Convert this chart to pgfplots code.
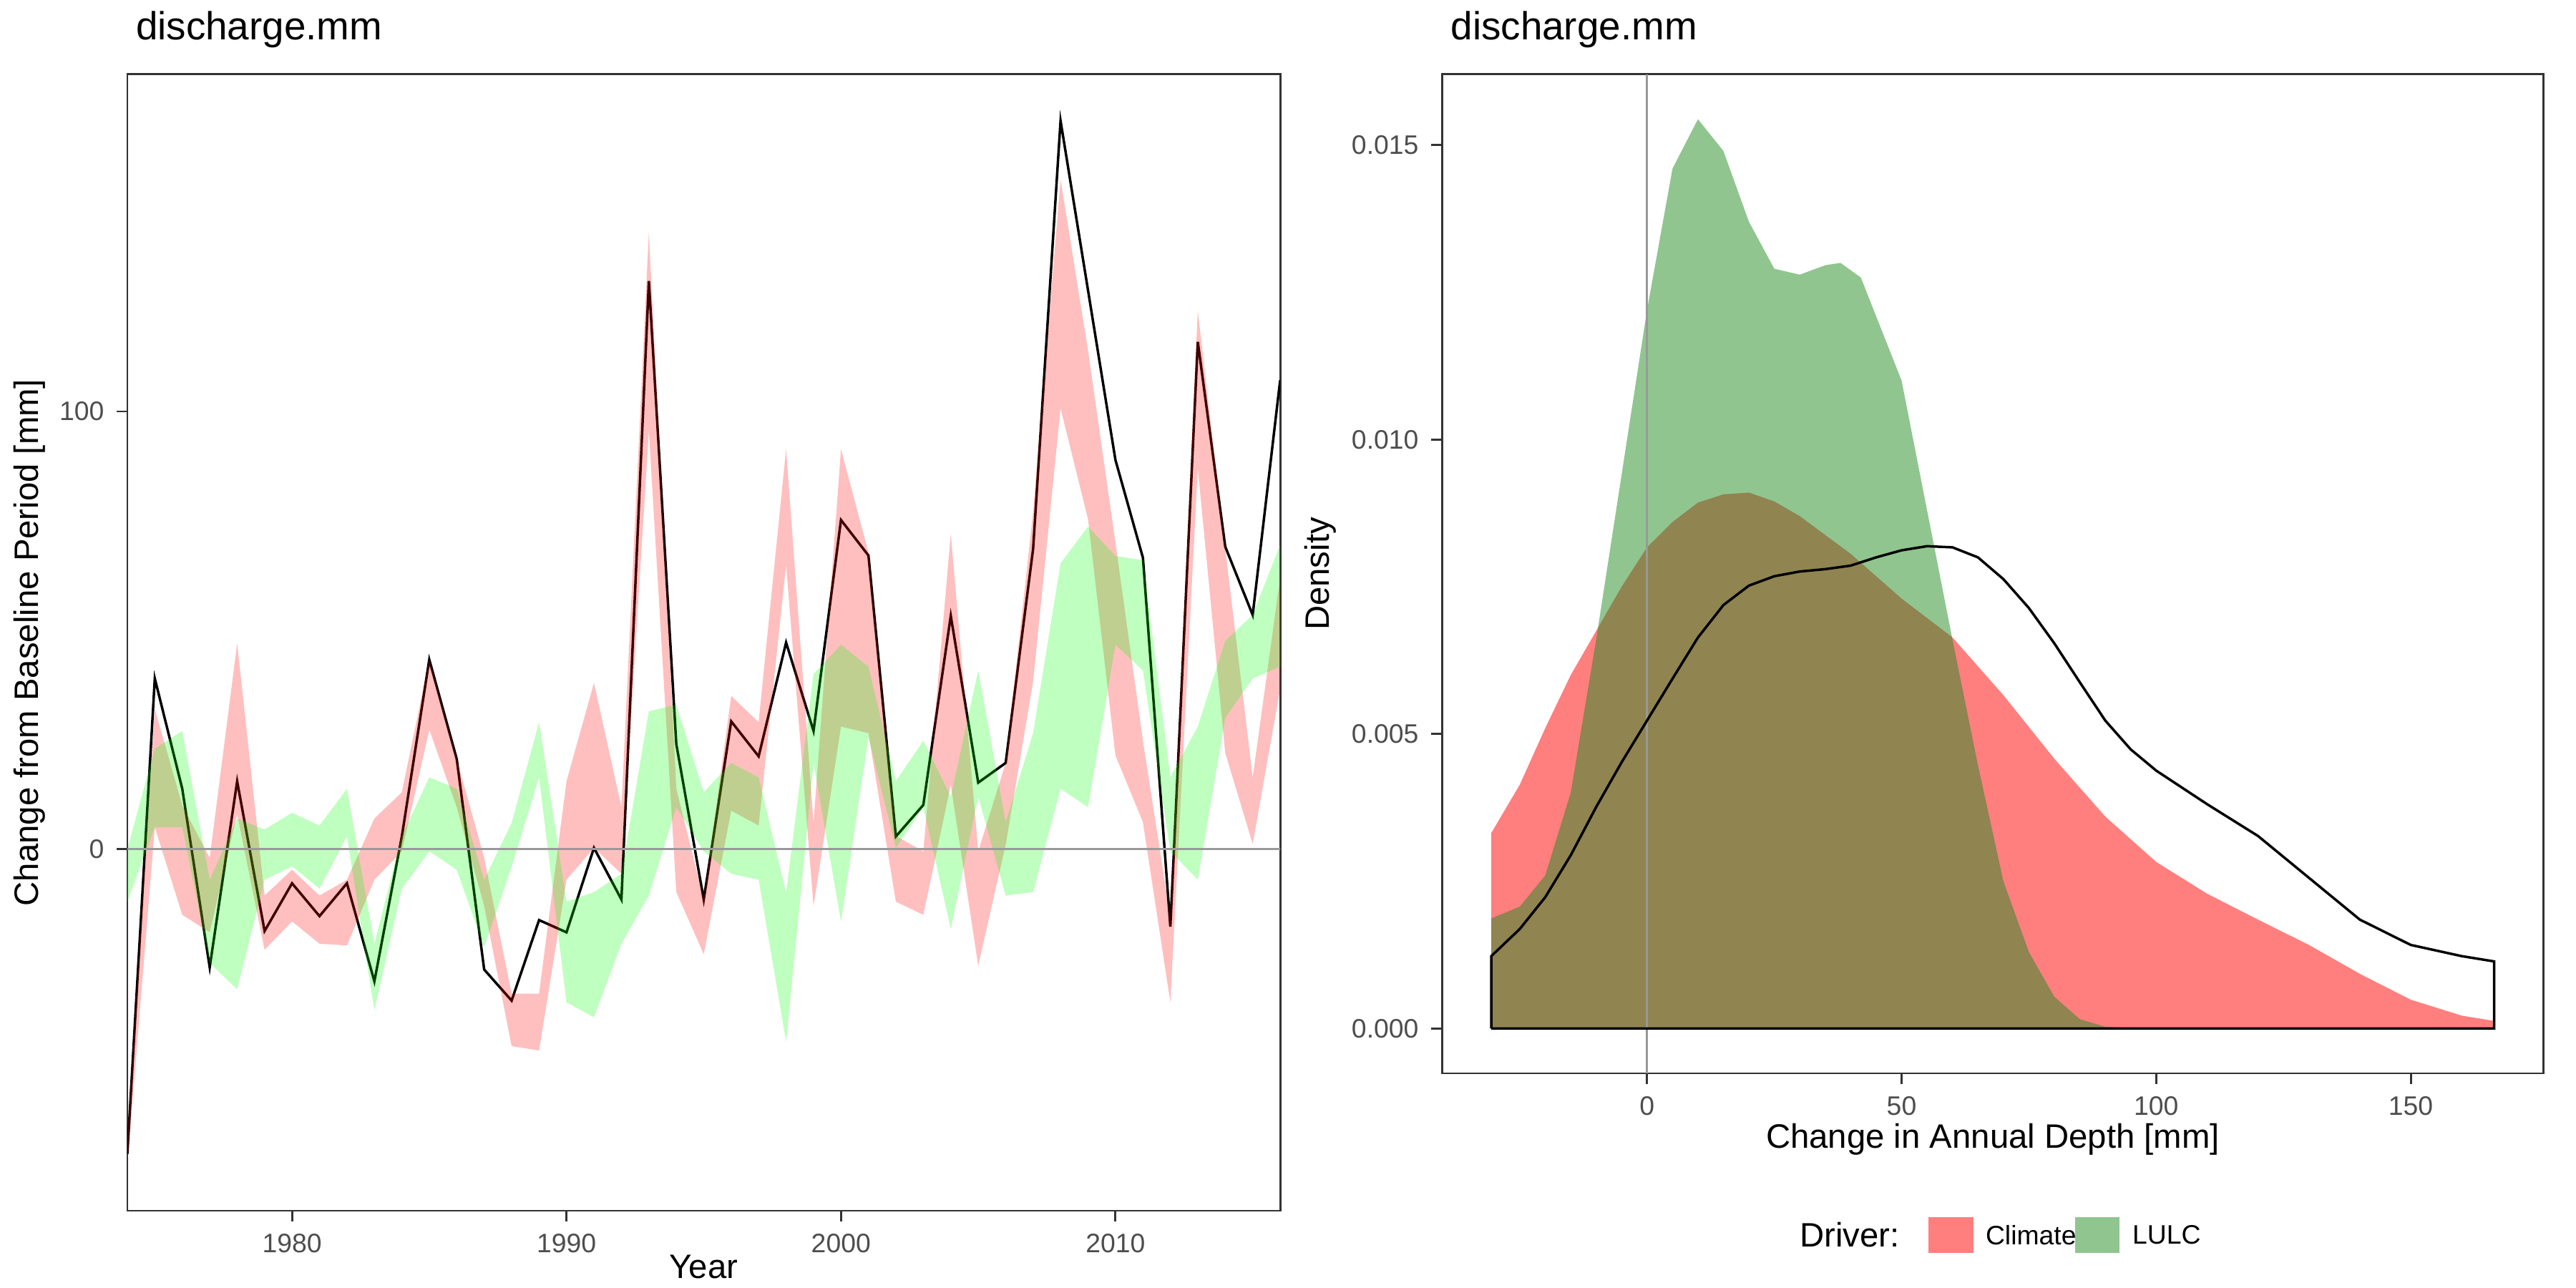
\documentclass[border=0pt]{standalone}
\usepackage{pgfplots}
\pgfplotsset{compat=1.18}
\usepackage{pgfplotstable}
\usepackage{fontspec}
\setmainfont{Liberation Sans}
\definecolor{tickgray}{RGB}{77,77,77}
\definecolor{axgray}{RGB}{51,51,51}
\definecolor{fg}{RGB}{34,139,34}

\pgfplotstableread{
year black
1974 -69.6
1975 39
1976 13.8
1977 -27
1978 15.5
1979 -18.7
1980 -7.8
1981 -15.3
1982 -7.8
1983 -30.2
1984 2.9
1985 43.3
1986 20.6
1987 -27.5
1988 -34.6
1989 -16.2
1990 -19
1991 0.3
1992 -11.5
1993 129.8
1994 24
1995 -11.5
1996 29.2
1997 21.2
1998 47.2
1999 27
2000 75.2
2001 67.1
2002 2.9
2003 10.1
2004 53.3
2005 15.2
2006 19.7
2007 68.6
2008 166.4
2009 127.7
2010 88.9
2011 66.6
2012 -17.7
2013 115.9
2014 69.1
2015 53.5
2016 107.1
}\blacktab

\pgfplotstableread{
x y
-30.6 0
-30.6 0.00187
-25 0.00207
-20 0.0026
-15 0.0040
-10 0.0066
-5 0.0094
0 0.0122
5 0.0146
10 0.01544
15 0.0149
20 0.0137
25 0.0129
30 0.0128
35 0.01296
38 0.0130
42 0.01275
50 0.0110
55 0.0088
60 0.0066
65 0.00447
70 0.0025
75 0.0013
80 0.00054
85 0.00016
90 0.00003
100 0
}\lulctab

\pgfplotstableread{
x y
-30.6 0
-30.6 0.00332
-25 0.00414
-20 0.0051
-15 0.0060
-10 0.00675
-5 0.0075
0 0.00817
5 0.0086
10 0.00893
15 0.00907
20 0.0091
25 0.00895
30 0.0087
40 0.00806
50 0.0073
60 0.00664
70 0.00566
80 0.00458
90 0.0036
100 0.00283
110 0.00229
120 0.00185
130 0.00142
140 0.00093
150 0.00049
160 0.00022
166.4 0.00013
166.4 0
}\climtab

\pgfplotstableread{
x y
-30.6 0
-30.6 0.00123
-25 0.00169
-20 0.00223
-15 0.00294
-10 0.00376
-5 0.00452
0 0.00523
5 0.00594
10 0.00664
15 0.00719
20 0.00752
25 0.00768
30 0.00776
35 0.0078
40 0.00786
45 0.008
50 0.00812
55 0.00819
60 0.00817
65 0.008
70 0.00763
75 0.00714
80 0.00654
85 0.00588
90 0.00523
95 0.00474
100 0.00438
110 0.00381
120 0.00327
130 0.00256
140 0.00185
150 0.00142
160 0.00123
166.4 0.00114
166.4 0
-30.6 0
}\tottab

\pgfplotsset{
  every axis/.append style={
    scale only axis,
    axis line style={axgray, line width=0.6pt},
    tick style={axgray, line width=0.6pt},
    major tick length=3pt,
    tick align=outside,
    xtick pos=bottom, ytick pos=left,
    tick label style={font=\fontsize{7.5}{8}\selectfont, text=tickgray},
    /pgf/number format/assume math mode=true,
  }
}

\begin{document}
\begin{tikzpicture}
\path[use as bounding box] (0bp,0bp) rectangle (720bp,360bp);

\begin{axis}[
  at={(35.6bp,21.6bp)}, anchor=south west,
  width=322.2bp, height=317.6bp,
  xmin=1974, xmax=2016, ymin=-82.6, ymax=177,
  xtick={1980,1990,2000,2010},
  xticklabel style={/pgf/number format/1000 sep={}},
  ytick={0,100},
]
\addplot[black, line width=0.7pt] table[x=year,y=black]{\blacktab};
\addplot[fill=red, fill opacity=0.25, draw=none] coordinates {
(1974,-66) (1975,32) (1976,10) (1977,-2) (1978,47) (1979,-10.6) (1980,-4.7) (1981,-10.6) (1982,-7) (1983,7) (1984,13) (1985,43.3) (1986,20.6) (1987,-2) (1988,-33) (1989,-33) (1990,15.5) (1991,38) (1992,9.6) (1993,141) (1994,13.8) (1995,-11.5) (1996,35) (1997,29) (1998,91.4) (1999,6) (2000,91.4) (2001,67.8) (2002,3) (2003,-0.5) (2004,72) (2005,-0.5) (2006,19.7) (2007,77) (2008,153) (2009,114) (2010,70) (2011,24.8) (2012,-15.7) (2013,123) (2014,68.6) (2015,16.4) (2016,62)
(2016,36.6) (2015,1.2) (2014,22) (2013,87) (2012,-35) (2011,6.2) (2010,21.4) (2009,75.4) (2008,100.7) (2007,38.3) (2006,1) (2005,-26.6) (2004,14.7) (2003,-15) (2002,-12) (2001,26.5) (2000,28) (1999,-13) (1998,65) (1997,5.4) (1996,8.8) (1995,-24) (1994,-9.8) (1993,95.6) (1992,-5.6) (1991,0.3) (1990,-7) (1989,-46) (1988,-45) (1987,-13) (1986,9.6) (1985,27.3) (1984,-0.5) (1983,-7) (1982,-22) (1981,-21.6) (1980,-16.5) (1979,-23) (1978,8) (1977,-19) (1976,-15) (1975,5) (1974,-72)
} -- cycle;
\addplot[fill=green, fill opacity=0.25, draw=none] coordinates {
(1974,0) (1975,23) (1976,27) (1977,-7) (1978,7) (1979,4.5) (1980,8.3) (1981,5.4) (1982,13.8) (1983,-21.6) (1984,3) (1985,16.4) (1986,13.8) (1987,-7) (1988,6) (1989,29) (1990,-12) (1991,-9.8) (1992,-5.6) (1993,31.5) (1994,33) (1995,13) (1996,19.7) (1997,16.4) (1998,-10) (1999,40) (2000,46.7) (2001,41.7) (2002,15.5) (2003,24.8) (2004,12) (2005,40.8) (2006,6.2) (2007,26.5) (2008,65.3) (2009,73.7) (2010,67) (2011,66) (2012,16.4) (2013,28) (2014,47.6) (2015,53.5) (2016,69.5)
(2016,41.7) (2015,39) (2014,30) (2013,-7) (2012,-0.5) (2011,40.8) (2010,46.7) (2009,9.6) (2008,13.8) (2007,-9.8) (2006,-10.6) (2005,12) (2004,-18.2) (2003,9.6) (2002,0.3) (2001,25.6) (2000,-16.5) (1999,19.7) (1998,-44) (1997,-7) (1996,-5.6) (1995,-0.5) (1994,9.6) (1993,-10.6) (1992,-21.6) (1991,-38.4) (1990,-35) (1989,16.4) (1988,-4) (1987,-22.4) (1986,-4.7) (1985,-0.5) (1984,-9) (1983,-36.8) (1982,2.9) (1981,-9) (1980,-3.9) (1979,-7) (1978,-32) (1977,-26) (1976,5) (1975,5) (1974,-12)
} -- cycle;
\addplot[gray!80, line width=0.6pt] coordinates {(1974,0) (2016,0)};
\end{axis}

\begin{axis}[
  at={(403bp,60bp)}, anchor=south west,
  width=307.8bp, height=279.2bp,
  xmin=-40.3, xmax=176, ymin=-0.00076, ymax=0.0162,
  xtick={0,50,100,150},
  ytick={0,0.005,0.010,0.015},
  yticklabel style={/pgf/number format/.cd, fixed, fixed zerofill, precision=3},
  scaled y ticks=false,
]
\addplot[fill=red, fill opacity=0.5, draw=none] table{\climtab} -- cycle;
\addplot[fill=fg, fill opacity=0.5, draw=none] table{\lulctab} -- cycle;
\addplot[gray!80, line width=0.6pt] coordinates {(0,-0.00076) (0,0.0162)};
\addplot[black, line width=0.7pt] table{\tottab};
\end{axis}

\node[anchor=west, font=\fontsize{11}{12}\selectfont] at (34.5bp,351.7bp) {discharge.mm};
\node[anchor=west, font=\fontsize{11}{12}\selectfont] at (402bp,351.7bp) {discharge.mm};
\node[rotate=90, font=\fontsize{9.5}{10}\selectfont] at (8.3bp,180.4bp) {Change from Baseline Period [mm]};
\node[font=\fontsize{9.5}{10}\selectfont] at (196.7bp,6bp) {Year};
\node[rotate=90, font=\fontsize{9.5}{10}\selectfont] at (369bp,199.6bp) {Density};
\node[font=\fontsize{9.5}{10}\selectfont] at (557bp,41.5bp) {Change in Annual Depth [mm]};

\node[anchor=west, font=\fontsize{9.5}{10}\selectfont] at (499.5bp,14.8bp) {Driver:};
\fill[red, fill opacity=0.5] (539bp,9.8bp) rectangle (551.5bp,19.8bp);
\node[anchor=west, font=\fontsize{7.5}{8}\selectfont, inner sep=1pt] at (553.8bp,14.8bp) {Climate};
\fill[fg, fill opacity=0.5] (580bp,9.8bp) rectangle (592.3bp,19.8bp);
\node[anchor=west, font=\fontsize{7.5}{8}\selectfont, inner sep=1pt] at (594.8bp,14.8bp) {LULC};
\end{tikzpicture}
\end{document}
